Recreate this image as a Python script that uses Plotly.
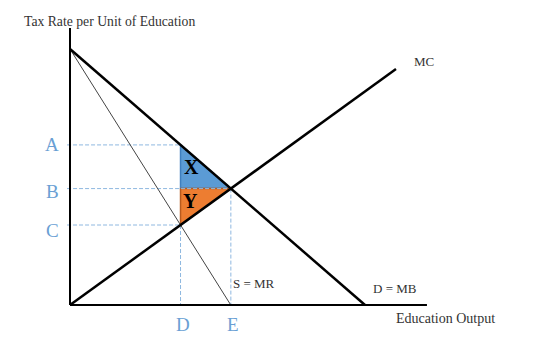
import plotly.graph_objects as go

# ---- model data (economic diagram) ----
demand_intercept = [10.0]          # price where D = MB meets the vertical axis
demand_q_intercept = [10.0]        # quantity where D = MB meets the horizontal axis
mc_slope = [0.834]                 # MC through origin
mc_end_q = [11.05]
mr_q_intercept = [5.45]            # S = MR reaches the axis at E
axis_top = [10.82]
axis_right = [12.1]
level_labels = ["A", "B", "C"]
qty_labels = ["D", "E"]

a = demand_intercept[0]
bq = demand_q_intercept[0]
m = mc_slope[0]
d_slope = a / bq
Q_E = a / (d_slope + m)            # D meets MC
mr_slope = a / mr_q_intercept[0]
Q_D = a / (mr_slope + m)           # MR meets MC
P_A = a - d_slope * Q_D
P_B = m * Q_E
P_C = m * Q_D

fig = go.Figure()

def line(xs, ys, color="black", width=2.5, dash=None):
    fig.add_trace(go.Scatter(x=xs, y=ys, mode="lines", hoverinfo="skip",
                             line=dict(color=color, width=width, dash=dash)))

# triangles
fig.add_trace(go.Scatter(x=[Q_D, Q_D, Q_E, Q_D], y=[P_A, P_B, P_B, P_A], mode="lines",
                         fill="toself", fillcolor="#5b9bd5", line=dict(color="#3f7fbf", width=1.5),
                         hoverinfo="skip"))
fig.add_trace(go.Scatter(x=[Q_D, Q_E, Q_D, Q_D], y=[P_B, P_B, P_C, P_B], mode="lines",
                         fill="toself", fillcolor="#ed7d31", line=dict(color="#b85a1e", width=1.5),
                         hoverinfo="skip"))

# dashed guides
dc = "#8fb8e0"
x0 = -0.1
dd = "4px,2px"
line([x0, Q_D], [P_A, P_A], dc, 1, dd)
line([x0, Q_E], [P_B, P_B], dc, 1, dd)
line([x0, Q_D], [P_C, P_C], dc, 1, dd)
line([Q_D, Q_D], [P_C, 0], dc, 1, dd)
line([Q_E, Q_E], [P_B, 0], dc, 1, dd)

# curves
line([0, mr_q_intercept[0]], [a, 0], "#444444", 1)
line([0, bq], [a, 0], "black", 2.5)
line([0, mc_end_q[0]], [0, m * mc_end_q[0]], "black", 2.5)

# axes
line([0, 0], [0, axis_top[0]], "black", 2)
line([0, axis_right[0]], [0, 0], "black", 2)

serif = "Liberation Serif, Times New Roman, serif"
ann = []
def text(x, y, s, size=13, color="#333333", bold=False, xanchor="center"):
    ann.append(dict(x=x, y=y, text=("<b>%s</b>" % s) if bold else s, showarrow=False,
                    xanchor=xanchor, yanchor="middle",
                    font=dict(family=serif, size=size, color=color)))

px = 29.5   # px per unit x
py = 25.6   # px per unit y
def X(p): return (p - 70) / px
def Y(p): return (305 - p) / py

text(X(22), Y(21), "Tax Rate per Unit of Education", 13.7, xanchor="left")
text(X(424), Y(61), "MC", 13)
text(X(254), Y(283), "S = MR", 13)
text(X(395), Y(288), "D = MB", 13)
text(X(445), Y(318), "Education Output", 14)
blue = "#6a9fd4"
for lab, p, yo in zip(level_labels, [P_A, P_B, P_C], [0, 3, 5]):
    text(X(52), p - yo / py, lab, 19, blue)
for lab, q in zip(qty_labels, [Q_D, Q_E]):
    text(q + 2 / px, Y(324), lab, 19, blue)
text(X(191), Y(167), "X", 20, "black", True)
text(X(190), Y(201), "Y", 20, "black", True)

fig.update_layout(
    width=560, height=360, margin=dict(l=0, r=0, t=0, b=0),
    plot_bgcolor="white", paper_bgcolor="white", showlegend=False,
    xaxis=dict(range=[X(0), X(560)], visible=False, fixedrange=True),
    yaxis=dict(range=[Y(360), Y(0)], visible=False, fixedrange=True),
    annotations=ann,
)
fig.write_html("out.html")
